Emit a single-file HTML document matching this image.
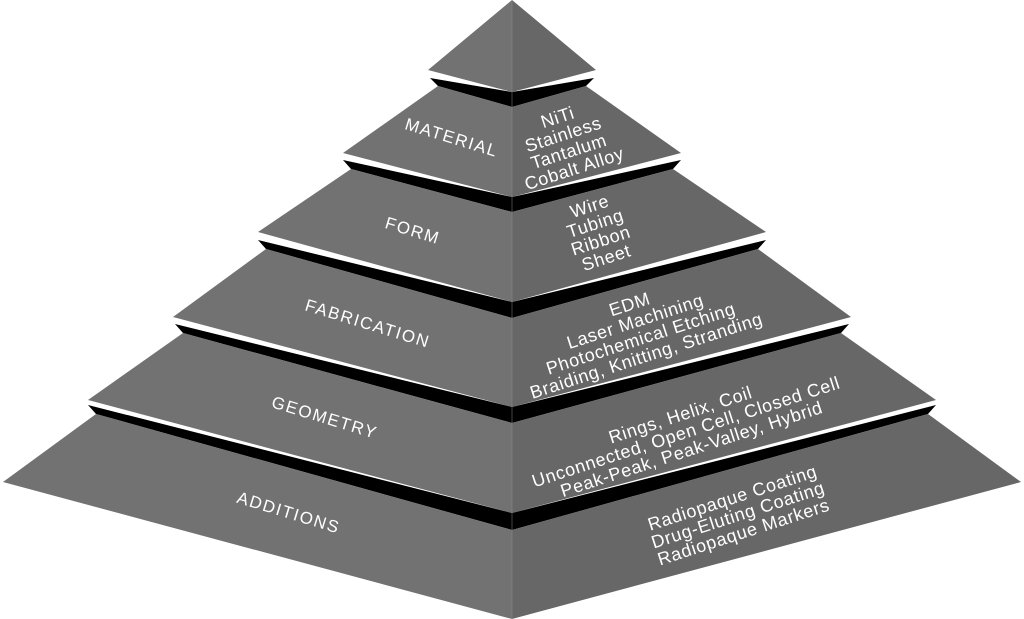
<!DOCTYPE html>
<html><head><meta charset="utf-8"><style>
html,body{margin:0;padding:0;background:#fff;width:1024px;height:619px;overflow:hidden}
svg{display:block}
text{font-family:"Liberation Sans",Arial,sans-serif;fill:#fff}
.l{font-size:17px;letter-spacing:1.6px}
.r{font-size:18px;letter-spacing:0.7px}
</style></head><body>
<svg width="1024" height="619" viewBox="0 0 1024 619" xmlns="http://www.w3.org/2000/svg">
<!-- apex -->
<polygon points="512,0 428,70 512,92" fill="#727272"/>
<polygon points="512,0 596,70 512,92" fill="#676767"/>
<!-- layer1 -->
<polygon points="430,78 512,92 594,78 586,86 512,107 438,86" fill="#000"/>
<polygon points="438,86 512,107 512,197 343,153" fill="#727272"/>
<polygon points="586,86 512,107 512,197 681,153" fill="#676767"/>
<!-- layer2 -->
<polygon points="343,160 512,197 681,160 673,169 512,212 351,169" fill="#000"/>
<polygon points="351,169 512,212 512,302 258,232" fill="#727272"/>
<polygon points="673,169 512,212 512,302 766,232" fill="#676767"/>
<!-- layer3 -->
<polygon points="258,240 512,302 766,240 758,249 512,318 266,249" fill="#000"/>
<polygon points="266,249 512,318 512,407 173,317" fill="#727272"/>
<polygon points="758,249 512,318 512,407 851,317" fill="#676767"/>
<!-- layer4 -->
<polygon points="175,324 512,407 849,324 841,333 512,423 183,333" fill="#000"/>
<polygon points="183,333 512,423 512,513 88,400" fill="#727272"/>
<polygon points="841,333 512,423 512,513 936,400" fill="#676767"/>
<!-- layer5 -->
<polygon points="88,405 512,513 936,405 928,414 512,530 96,414" fill="#000"/>
<polygon points="96,414 512,530 512,619 3,482" fill="#727272"/>
<polygon points="928,414 512,530 512,619 1021,482" fill="#676767"/>
<line x1="512" y1="0" x2="512" y2="619" stroke="#8a8a8a" stroke-width="1" opacity="0.5"/>

<!-- left labels -->
<text class="l" text-anchor="middle" transform="translate(450,143) rotate(17)">MATERIAL</text>
<text class="l" text-anchor="middle" transform="translate(411,236) rotate(17)">FORM</text>
<text class="l" text-anchor="middle" transform="translate(366,329) rotate(17)">FABRICATION</text>
<text class="l" text-anchor="middle" transform="translate(323,423) rotate(17)">GEOMETRY</text>
<text class="l" text-anchor="middle" transform="translate(287,518) rotate(17)">ADDITIONS</text>

<!-- right texts -->
<g transform="translate(566,143) rotate(-18)" class="r" text-anchor="middle">
<text x="0" y="-21">NiTi</text><text x="0" y="-3">Stainless</text><text x="0" y="15">Tantalum</text><text x="0" y="33">Cobalt Alloy</text>
</g>
<g transform="translate(598,232) rotate(-18)" class="r" text-anchor="middle">
<text x="0" y="-21">Wire</text><text x="0" y="-3">Tubing</text><text x="0" y="15">Ribbon</text><text x="0" y="33">Sheet</text>
</g>
<g transform="translate(638,330) rotate(-18)" class="r" text-anchor="middle">
<text x="0" y="-21">EDM</text><text x="0" y="-3">Laser Machining</text><text x="0" y="15">Photochemical Etching</text><text x="0" y="33">Braiding, Knitting, Stranding</text>
</g>
<g transform="translate(686,432) rotate(-18)" class="r" text-anchor="middle">
<text x="0" y="-12">Rings, Helix, Coil</text><text x="0" y="6">Unconnected, Open Cell, Closed Cell</text><text x="0" y="24">Peak-Peak, Peak-Valley, Hybrid</text>
</g>
<g transform="translate(738,515) rotate(-18)" class="r" text-anchor="middle">
<text x="0" y="-12">Radiopaque Coating</text><text x="0" y="6">Drug-Eluting Coating</text><text x="0" y="24">Radiopaque Markers</text>
</g>
</svg>
</body></html>
